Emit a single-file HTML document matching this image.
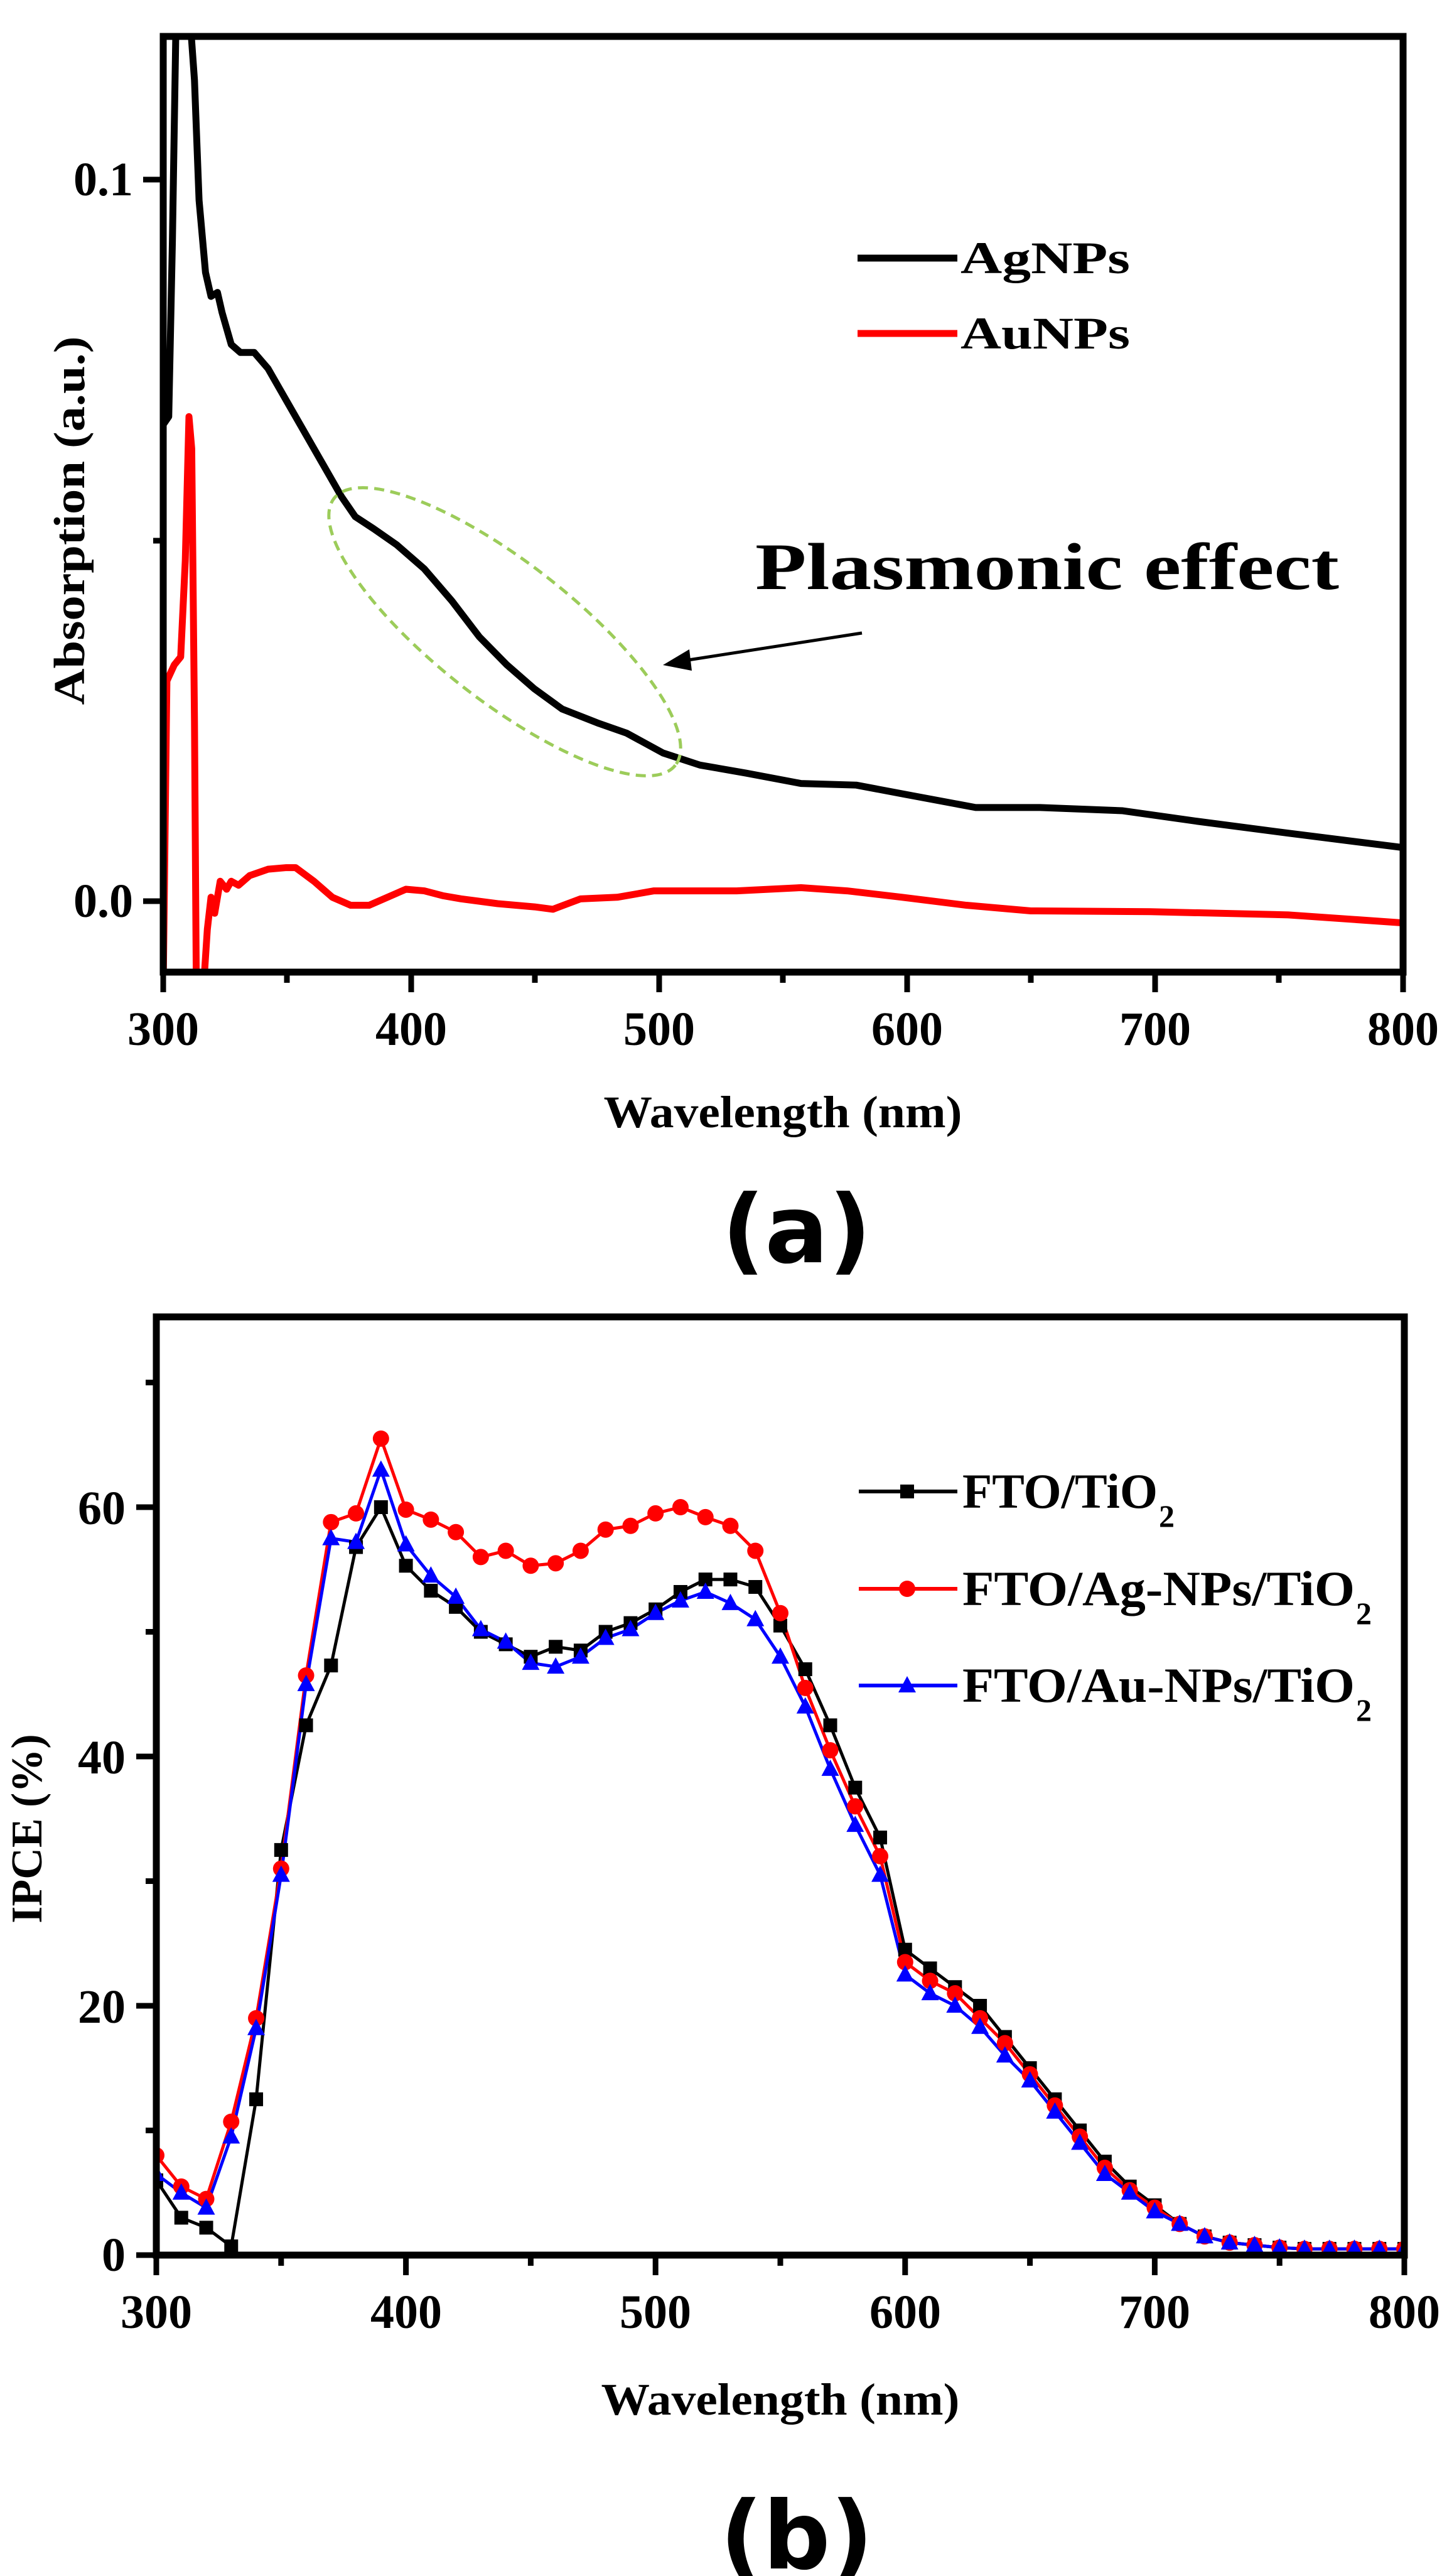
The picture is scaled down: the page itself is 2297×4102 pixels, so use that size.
<!DOCTYPE html>
<html><head><meta charset="utf-8"><style>
html,body{margin:0;padding:0;background:#fff;}
svg{display:block;}
text{font-family:"Liberation Serif",serif;font-weight:bold;fill:#000;}
</style></head><body>
<svg id="s" width="2297" height="4102" viewBox="0 0 2297 4102" xmlns="http://www.w3.org/2000/svg">
<defs>
<clipPath id="ca"><rect x="260" y="58" width="1975" height="1490"/></clipPath>
<clipPath id="cb"><rect x="249" y="2097" width="1988" height="1494"/></clipPath>
</defs>
<g clip-path="url(#ca)">
<g transform="matrix(1.464,0,0,1.2757,2.34,0)" fill="none" stroke-linejoin="round">
<polyline vector-effect="non-scaling-stroke" stroke="#000" stroke-width="11" points="176,530 182,520 186,300 190,20 205,20 210,100 215,250 222,340 228,370 235,365 240,390 250,430 260,440 275,440 290,460 310,500 330,540 350,580 370,620 385,645 405,660 430,680 460,710 490,750 520,795 550,830 580,860 610,885 650,903 680,915 720,940 760,955 810,965 870,978 930,980 990,993 1060,1008 1130,1008 1220,1012 1300,1025 1400,1040 1525,1058"/>
<polyline vector-effect="non-scaling-stroke" stroke="#f00" stroke-width="11" points="176,1230 180,850 188,830 195,820 200,700 204,520 207,560 210,900 212,1230 220,1230 224,1160 228,1120 232,1140 238,1100 245,1110 250,1100 258,1105 270,1093 290,1085 310,1083 320,1083 340,1100 360,1120 380,1130 400,1130 420,1120 440,1110 460,1112 480,1118 500,1122 540,1128 580,1132 600,1135 630,1122 670,1120 710,1112 800,1112 870,1108 920,1112 980,1120 1050,1130 1120,1137 1250,1138 1400,1142 1525,1152"/>
</g>
</g>
<rect x="260" y="58" width="1975" height="1490" fill="none" stroke="#000" stroke-width="11"/>
<g stroke="#000" stroke-width="9">
<line x1="260" y1="1548" x2="260" y2="1580"/><line x1="655" y1="1548" x2="655" y2="1580"/><line x1="1050" y1="1548" x2="1050" y2="1580"/><line x1="1445" y1="1548" x2="1445" y2="1580"/><line x1="1840" y1="1548" x2="1840" y2="1580"/><line x1="2235" y1="1548" x2="2235" y2="1580"/>
<line x1="457" y1="1548" x2="457" y2="1565"/><line x1="852" y1="1548" x2="852" y2="1565"/><line x1="1247" y1="1548" x2="1247" y2="1565"/><line x1="1642" y1="1548" x2="1642" y2="1565"/><line x1="2037" y1="1548" x2="2037" y2="1565"/>
<line x1="228" y1="1435" x2="260" y2="1435"/><line x1="228" y1="286" x2="260" y2="286"/><line x1="244" y1="861" x2="260" y2="861"/>
</g>
<g font-size="76" text-anchor="middle">
<text x="260" y="1664">300</text><text x="655" y="1664">400</text><text x="1050" y="1664">500</text><text x="1445" y="1664">600</text><text x="1840" y="1664">700</text><text x="2235" y="1664">800</text>
</g>
<g font-size="76" text-anchor="end"><text x="212" y="1460">0.0</text><text x="212" y="311">0.1</text></g>
<text x="1247" y="1795" font-size="72" text-anchor="middle" textLength="571" lengthAdjust="spacingAndGlyphs">Wavelength (nm)</text>
<text transform="translate(134,829) rotate(-90)" font-size="70" text-anchor="middle" textLength="587" lengthAdjust="spacingAndGlyphs">Absorption (a.u.)</text>
<line x1="1366" y1="411" x2="1525" y2="411" stroke="#000" stroke-width="11"/>
<line x1="1366" y1="531" x2="1525" y2="531" stroke="#f00" stroke-width="11"/>
<text x="1530" y="435" font-size="72" textLength="270" lengthAdjust="spacingAndGlyphs">AgNPs</text>
<text x="1530" y="555" font-size="72" textLength="270" lengthAdjust="spacingAndGlyphs">AuNPs</text>
<ellipse cx="804" cy="1006" rx="345" ry="110" transform="rotate(38 804 1006)" fill="none" stroke="#9ccc5a" stroke-width="5" stroke-dasharray="16,10"/>
<text x="1203" y="938" font-size="106" textLength="930" lengthAdjust="spacingAndGlyphs">Plasmonic effect</text>
<line x1="1373" y1="1008" x2="1090" y2="1052" stroke="#000" stroke-width="5"/>
<polygon points="1056,1059 1098,1034 1102,1068" fill="#000"/>
<text x="1269" y="2010" font-size="150" text-anchor="middle" style="font-family:'DejaVu Sans',sans-serif">(a)</text>
<g id="bdata" clip-path="url(#cb)"></g>
<rect x="249" y="2097" width="1988" height="1494" fill="none" stroke="#000" stroke-width="11"/>
<g id="bticks" stroke="#000" stroke-width="9"></g>
<g font-size="76" text-anchor="middle">
<text x="249" y="3707">300</text><text x="647" y="3707">400</text><text x="1044" y="3707">500</text><text x="1442" y="3707">600</text><text x="1839" y="3707">700</text><text x="2237" y="3707">800</text>
</g>
<g font-size="76" text-anchor="end"><text x="200" y="3616">0</text><text x="200" y="3221">20</text><text x="200" y="2824">40</text><text x="200" y="2427">60</text></g>
<text x="1243" y="3845" font-size="72" text-anchor="middle" textLength="571" lengthAdjust="spacingAndGlyphs">Wavelength (nm)</text>
<text transform="translate(66,2912) rotate(-90)" font-size="70" text-anchor="middle">IPCE (%)</text>
<g id="bleg">
<line x1="1368" y1="2375" x2="1525" y2="2375" stroke="#000" stroke-width="6"/>
<rect x="1434" y="2364" width="22" height="22" fill="#000"/>
<line x1="1368" y1="2530" x2="1525" y2="2530" stroke="#f00" stroke-width="6"/>
<circle cx="1445" cy="2530" r="13" fill="#f00"/>
<line x1="1368" y1="2684" x2="1525" y2="2684" stroke="#00f" stroke-width="6"/>
<polygon points="1445,2669 1431,2695 1459,2695" fill="#00f"/>
<text x="1533" y="2401" font-size="78" textLength="311" lengthAdjust="spacingAndGlyphs">FTO/TiO</text>
<text x="1846" y="2431" font-size="50">2</text>
<text x="1533" y="2556" font-size="78" textLength="625" lengthAdjust="spacingAndGlyphs">FTO/Ag-NPs/TiO</text>
<text x="2160" y="2586" font-size="50">2</text>
<text x="1533" y="2710" font-size="78" textLength="625" lengthAdjust="spacingAndGlyphs">FTO/Au-NPs/TiO</text>
<text x="2160" y="2740" font-size="50">2</text>
</g>
<text x="1269" y="4090" font-size="150" text-anchor="middle" style="font-family:'DejaVu Sans',sans-serif">(b)</text>
</svg>
<script>
var NS="http://www.w3.org/2000/svg";
function el(p,t,a){var e=document.createElementNS(NS,t);for(var k in a)e.setAttribute(k,a[k]);p.appendChild(e);return e;}
function X(l){return 249+(l-300)*3.976;}
function Y(v){return 3591-v*19.85;}
var tail=[1.5,1,0.8,0.6,0.5,0.5,0.5,0.5,0.5,0.5,0.5];
var blk=[6,3,2.2,0.7,12.5,32.5,42.5,47.3,56.8,60,55.3,53.3,52,50,49,48,48.8,48.5,50,50.7,51.8,53.2,54.2,54.2,53.6,50.5,47,42.5,37.5,33.5,24.5,23,21.5,20,17.5,15,12.5,10,7.5,5.5,4,2.5].concat(tail);
var red=[8,5.5,4.5,10.7,19,31,46.5,58.8,59.5,65.5,59.8,59,58,56,56.5,55.3,55.5,56.5,58.2,58.5,59.5,60,59.2,58.5,56.5,51.5,45.5,40.5,36,32,23.5,22,21,19,17,14.5,12,9.5,7,5.2,3.8,2.5].concat(tail);
var blu=[6.5,5,3.8,9.5,18.2,30.5,45.8,57.5,57.2,63,57,54.5,52.8,50.2,49.2,47.5,47.2,48,49.5,50.2,51.5,52.5,53.2,52.3,51,48,44,39,34.5,30.5,22.5,21,20,18.3,16,14,11.5,9,6.5,5,3.5,2.5].concat(tail);
var g=document.getElementById('bdata');
function marker(p,type,x,y,c){
 if(type=='s')el(p,'rect',{x:x-11,y:y-11,width:22,height:22,fill:c});
 else if(type=='c')el(p,'circle',{cx:x,cy:y,r:13,fill:c});
 else el(p,'polygon',{points:(x)+','+(y-15)+' '+(x-14)+','+(y+11)+' '+(x+14)+','+(y+11),fill:c});
}
var S=[[blk,'#000','s'],[red,'#f00','c'],[blu,'#00f','t']];
S.forEach(function(s){
 var pts=s[0].map(function(v,i){return X(300+10*i)+','+Y(v);}).join(' ');
 el(g,'polyline',{points:pts,fill:'none',stroke:s[1],'stroke-width':5,'stroke-linejoin':'round'});
});
S.forEach(function(s){
 s[0].forEach(function(v,i){marker(g,s[2],X(300+10*i),Y(v),s[1]);});
});
var t=document.getElementById('bticks');
for(var l=300;l<=800;l+=50){el(t,'line',{x1:X(l),y1:3591,x2:X(l),y2:3591+(l%100==0?32:17)});}
for(var v=0;v<=70;v+=10){el(t,'line',{x1:249-(v%20==0?32:17),y1:Y(v),x2:249,y2:Y(v)});}
</script>
</body></html>
